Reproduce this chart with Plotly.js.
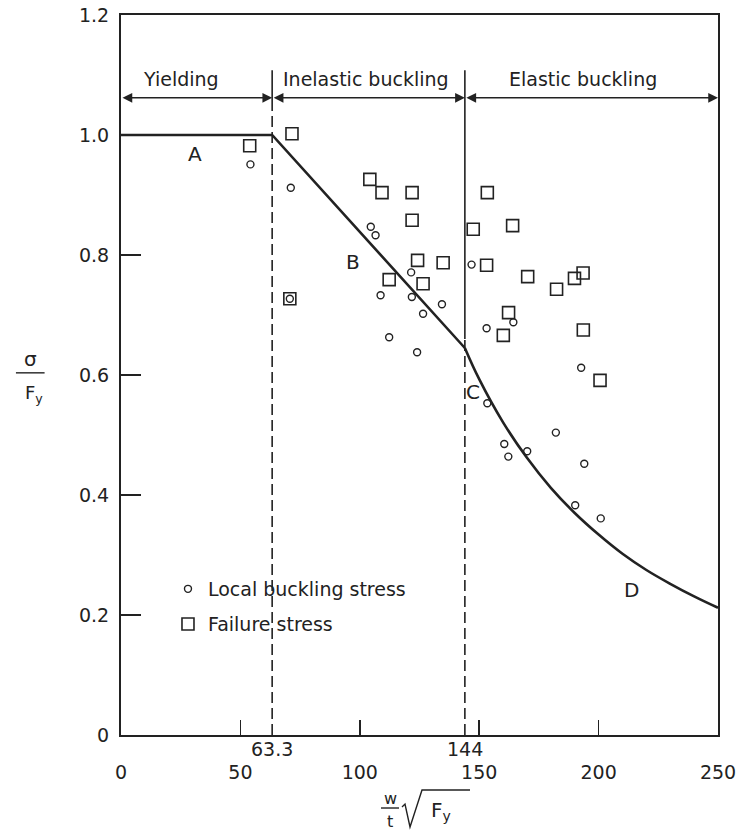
<!DOCTYPE html>
<html>
<head>
<meta charset="utf-8">
<script src="https://cdn.plot.ly/plotly-3.0.1.min.js"></script>
<style>html,body{margin:0;padding:0;background:#fff;}#chart{width:755px;height:830px;}</style>
</head>
<body>
<div id="chart"></div>
<script>
// ---- data ----
// A-B-C: straight segments
var linearX = [0, 63.3, 144];
var linearY = [1.0, 1.0, 0.645];
// C-D: elastic buckling curve
var elasticX = [144, 150, 160, 170, 180, 190, 200, 210, 220, 230, 240, 250];
var elasticY = [0.645, 0.593, 0.521, 0.462, 0.412, 0.370, 0.334, 0.302, 0.275, 0.252, 0.231, 0.212];

var localX = [54.2, 71.1, 104.6, 106.6, 121.5, 108.7, 121.8, 134.4, 126.5, 112.3, 124.0, 146.8, 153.1, 164.3, 153.4, 160.5, 162.2, 170.1, 182.1, 192.7, 194.0, 190.2, 200.9, 70.7];
var localY = [0.951, 0.912, 0.847, 0.833, 0.771, 0.733, 0.730, 0.718, 0.702, 0.663, 0.638, 0.784, 0.678, 0.688, 0.553, 0.485, 0.464, 0.473, 0.504, 0.612, 0.452, 0.383, 0.361, 0.727];

var failX = [53.9, 71.6, 104.2, 109.3, 121.9, 121.9, 124.2, 134.9, 112.3, 126.5, 70.7, 153.4, 147.5, 164.0, 153.1, 170.3, 182.4, 189.9, 193.5, 162.3, 160.1, 193.6, 200.6];
var failY = [0.982, 1.002, 0.926, 0.904, 0.904, 0.858, 0.791, 0.787, 0.759, 0.752, 0.727, 0.904, 0.843, 0.849, 0.783, 0.764, 0.743, 0.761, 0.770, 0.704, 0.666, 0.675, 0.591];

var limits = [63.3, 144];
var limitLabels = ['63.3', '144'];
var regionNames = ['Yielding', 'Inelastic buckling', 'Elastic buckling'];
var regionCenters = [25.3, 102.5, 193.6];
var regionBounds = [0, 63.3, 144, 250];
var pointLabels = ['A', 'B', 'C', 'D'];
var pointLabelX = [30.9, 97.2, 147.5, 213.9];
var pointLabelY = [0.969, 0.788, 0.572, 0.242];
var xTicks = [0, 50, 100, 150, 200, 250];
var yTicks = [0, 0.2, 0.4, 0.6, 0.8, 1.0, 1.2];
var yTickText = ['0', '0.2', '0.4', '0.6', '0.8', '1.0', '1.2'];

var FONT = 'DejaVu Sans, Liberation Sans, sans-serif';
var INK = '#222';

var traces = [
  {x: linearX, y: linearY, mode: 'lines', line: {color: INK, width: 2.6}, showlegend: false, hoverinfo: 'skip'},
  {x: elasticX, y: elasticY, mode: 'lines', line: {color: INK, width: 2.6, shape: 'spline', smoothing: 1.1}, showlegend: false, hoverinfo: 'skip'},
  {x: localX, y: localY, mode: 'markers', name: 'Local buckling stress', legend: 'legend',
   marker: {symbol: 'circle-open', size: 7, color: INK, line: {width: 1.4, color: INK}}},
  {x: failX, y: failY, mode: 'markers', name: 'Failure stress', legend: 'legend2',
   marker: {symbol: 'square-open', size: 12, color: INK, line: {width: 1.6, color: INK}}}
];

var shapes = [];
var solidFrom = [1.04, 0.66];
limits.forEach(function (v, i) {
  shapes.push({type: 'line', xref: 'x', yref: 'y', x0: v, x1: v, y0: 0, y1: solidFrom[i],
    line: {color: INK, width: 1.6, dash: '11px,5px'}});
  shapes.push({type: 'line', xref: 'x', yref: 'y', x0: v, x1: v, y0: solidFrom[i], y1: 1.108,
    line: {color: INK, width: 1.6}});
});
// x title radical sign (paper coords)
shapes.push({type: 'path', xref: 'paper', yref: 'paper',
  path: 'M 0.4707 -0.1000 L 0.4757 -0.0960 L 0.4841 -0.1278 L 0.5042 -0.0764 L 0.5846 -0.0764',
  line: {color: INK, width: 1.4}});
// fraction bars
shapes.push({type: 'line', xref: 'paper', yref: 'paper', x0: 0.4355, x1: 0.4657, y0: -0.1014, y1: -0.1014, line: {color: INK, width: 1.4}});
shapes.push({type: 'line', xref: 'paper', yref: 'paper', x0: -0.176, x1: -0.128, y0: 0.503, y1: 0.503, line: {color: INK, width: 1.4}});

var annotations = [];
for (var i = 0; i < regionNames.length; i++) {
  var a = regionBounds[i], b = regionBounds[i + 1];
  annotations.push({x: b, y: 1.062, ax: a, ay: 1.062, xref: 'x', yref: 'y', axref: 'x', ayref: 'y',
    text: '', showarrow: true, arrowhead: 2, arrowside: 'end+start', arrowsize: 1.3, arrowwidth: 1.5, arrowcolor: INK, standoff: 0, startstandoff: 0});
  annotations.push({x: regionCenters[i], y: 1.094, xref: 'x', yref: 'y', xanchor: 'center', yanchor: 'middle', text: regionNames[i], showarrow: false,
    font: {family: FONT, size: 19, color: INK}});
}
for (var j = 0; j < pointLabels.length; j++) {
  annotations.push({x: pointLabelX[j], y: pointLabelY[j], xref: 'x', yref: 'y', xanchor: 'center', yanchor: 'middle', text: pointLabels[j], showarrow: false,
    font: {family: FONT, size: 20, color: INK}});
}
limits.forEach(function (v, i) {
  annotations.push({x: v, y: -0.0194, xref: 'x', yref: 'paper', xanchor: 'center', yanchor: 'middle', text: limitLabels[i], showarrow: false,
    font: {family: FONT, size: 19, color: INK}});
});
function paperText(x, y, t, size) {
  annotations.push({x: x, y: y, xref: 'paper', yref: 'paper', xanchor: 'center', yanchor: 'middle', text: t, showarrow: false,
    font: {family: FONT, size: size, color: INK}});
}
paperText(0.4506, -0.0880, 'w', 16);
paperText(0.4506, -0.1200, 't', 16);
paperText(0.5360, -0.1050, 'F<sub>y</sub>', 20);
paperText(-0.151, 0.522, 'σ', 20);
paperText(-0.146, 0.474, 'F<sub>y</sub>', 18);

var axisCommon = {showgrid: false, zeroline: false, showline: true, linecolor: INK, linewidth: 2, mirror: true,
  ticks: 'inside', tickcolor: INK, tickwidth: 1.5, tickfont: {family: FONT, size: 19, color: INK}};

var layout = {
  width: 755, height: 830,
  margin: {l: 121, r: 37, t: 15, b: 95},
  paper_bgcolor: '#fff', plot_bgcolor: '#fff',
  font: {family: FONT, color: INK},
  xaxis: Object.assign({}, axisCommon, {range: [0, 250], tickvals: xTicks, ticktext: xTicks.map(String), ticklen: 15, ticklabelstandoff: 19}),
  yaxis: Object.assign({}, axisCommon, {range: [0, 1.2], tickvals: yTicks, ticktext: yTickText, ticklen: 20, ticklabelstandoff: 6}),
  showlegend: true,
  legend: {x: 0.0787, y: 0.2028, xanchor: 'left', yanchor: 'middle', bgcolor: 'rgba(0,0,0,0)', font: {family: FONT, size: 19, color: INK}},
  legend2: {x: 0.0787, y: 0.154, xanchor: 'left', yanchor: 'middle', bgcolor: 'rgba(0,0,0,0)', font: {family: FONT, size: 19, color: INK}},
  shapes: shapes,
  annotations: annotations
};

Plotly.newPlot('chart', traces, layout, {displayModeBar: false, staticPlot: true});
</script>
</body>
</html>
